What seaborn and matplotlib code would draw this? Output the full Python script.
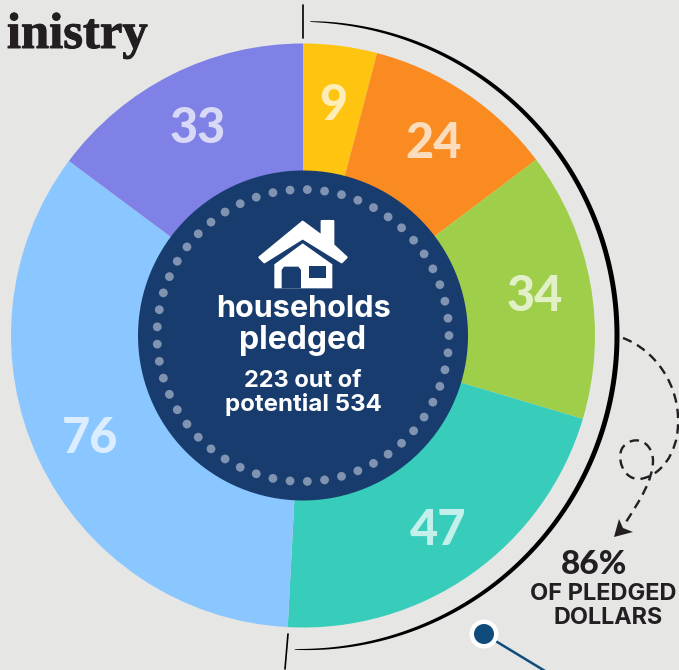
import numpy as np
import matplotlib
matplotlib.use('Agg')
import matplotlib.pyplot as plt
import matplotlib.patheffects as pe
import seaborn as sns
from matplotlib.patches import Circle, PathPatch, Polygon
from matplotlib.path import Path

households = [9, 24, 34, 47, 76, 33]
# the drawn slices are not quite proportional to the counts, so their arcs are read off the picture
slice_degrees = [14.7, 38.3, 53.6, 76.4, 123.7, 53.3]
slice_colors = ['#FEC40F', '#F98B21', '#9FCE4A', '#38CDBB', '#8AC6FF', '#7F81E6']

BG = '#E6E6E5'
NAVY = '#193C6E'
INK = '#231F20'
W, H = 679, 670
CX, CY = 303, H - 335.5

sns.set_theme(style='white', rc={'figure.facecolor': BG, 'axes.facecolor': BG})
plt.rcParams['font.family'] = ['Inter', 'DejaVu Sans']


def py(y):
    return H - y


def zoomed(points):
    # house icon traced in a 3x crop whose corner is at (130, 170)
    return [(130 + x / 3, py(170 + y / 3)) for x, y in points]


def draw_house(ax):
    roof = [(388, 262), (518, 155), (575, 197), (575, 153), (610, 153), (610, 225),
            (650, 262), (635, 277), (518, 205), (403, 277)]
    body = [(433, 283), (518, 220), (607, 283), (607, 355), (433, 355)]
    door = [(455, 355), (455, 300), (462, 290), (505, 290), (513, 300), (513, 355)]
    window = [(537, 287), (587, 287), (587, 325), (537, 325)]
    ax.add_patch(Polygon(zoomed(roof), fc='white', ec='white', lw=1.5, joinstyle='round', zorder=5))
    ax.add_patch(Polygon(zoomed(body), fc='white', ec='none', zorder=5))
    ax.add_patch(Polygon(zoomed(door), fc=NAVY, ec='none', zorder=6))
    ax.add_patch(Polygon(zoomed(window), fc=NAVY, ec='none', zorder=6))


fig, ax = plt.subplots(figsize=(W / 100, H / 100), dpi=100)
fig.subplots_adjust(0, 0, 1, 1)

wedges, labels = ax.pie(slice_degrees, labels=[str(v) for v in households],
                        colors=sns.color_palette(slice_colors), startangle=90,
                        counterclock=False, center=(CX, CY), radius=292,
                        labeldistance=0.805, frame=True, wedgeprops={'lw': 0})
for t in labels:
    t.set(ha='center', va='center', color='white', alpha=0.7, fontsize=35, fontweight='black',
          family=['Lato', 'DejaVu Sans'])
    t.set_y(t.get_position()[1] - 3)

# centre disc with its ring of dots
ax.add_patch(Circle((CX, CY), 165, fc=NAVY, ec='none', zorder=3))
for a in np.deg2rad(1.7 + np.arange(53) * 360 / 53):
    ax.add_patch(Circle((CX + 146 * np.sin(a), CY + 146 * np.cos(a)), 4.4,
                        fc='#8093B0', ec='none', zorder=4))
draw_house(ax)

ax.text(CX + 1, py(309), 'households', color='white', ha='center', va='center', fontsize=22, fontweight='bold', zorder=6)
ax.text(CX, py(340), 'pledged', color='white', ha='center', va='center', fontsize=23, fontweight='bold', zorder=6)
ax.text(CX, py(381), '223 out of', color='white', ha='center', va='center', fontsize=17, fontweight='bold', zorder=6)
ax.text(CX, py(405), 'potential 534', color='white', ha='center', va='center', fontsize=17.3, fontweight='bold', zorder=6)

# outer bracket, thin at both ends and thick in the middle
t = np.linspace(1.3, 181.5, 300)
th = np.deg2rad(t)
width = 0.6 + 4.4 * np.sin(np.deg2rad((t - 1.3) / 180.2 * 180)) ** 0.6
r_out = 314 + width / 2
r_in = 314 - width / 2
xs = np.r_[CX + r_out * np.sin(th), (CX + r_in * np.sin(th))[::-1]]
ys = np.r_[CY + r_out * np.cos(th), (CY + r_in * np.cos(th))[::-1]]
ax.fill(xs, ys, color='black', lw=0, zorder=2)
ax.plot([303, 303], [py(5), py(38)], color='black', lw=1.2, zorder=2)
ax.plot([288, 285], [py(634), py(669)], color='black', lw=1.2, zorder=2)

# dashed loop arrow
verts = [(623, 338),
         (655, 350), (680, 385), (678, 425),
         (677, 455), (660, 476), (640, 479),
         (622, 480), (616, 456), (623, 447),
         (634, 434), (652, 441), (653, 460),
         (653, 480), (640, 500), (626, 522)]
codes = [Path.MOVETO] + [Path.CURVE4] * 15
ax.add_patch(PathPatch(Path([(x, py(y)) for x, y in verts], codes), fc='none', ec=INK,
                       lw=1.7, ls=(0, (4, 2.6)), zorder=2))
ax.add_patch(Polygon([(614, py(537)), (619, py(519)), (623, py(528)), (633, py(532))],
                     fc=INK, ec='none', zorder=2))

ax.text(594, py(564), '86%', color=INK, ha='center', va='center', fontsize=24, fontweight='black', family=['Lato', 'DejaVu Sans'])
ax.text(603, py(594), 'OF PLEDGED', color=INK, ha='center', va='center', fontsize=17, fontweight='bold')
ax.text(608, py(618), 'DOLLARS', color=INK, ha='center', va='center', fontsize=16.8, fontweight='bold')

# lollipop marker running off the bottom edge
ax.plot([484, 545], [py(634), py(671)], color='#0F4C7C', lw=1.8, zorder=2)
ax.add_patch(Circle((484, py(634)), 14.5, fc='white', ec='none', zorder=3))
ax.add_patch(Circle((484, py(634)), 10, fc='#0F4C7C', ec='none', zorder=4))

ax.text(148, py(48), 'inistry', color=INK, ha='right', va='baseline',
        family='Liberation Serif', fontsize=36.5, fontweight='bold',
        path_effects=[pe.withStroke(linewidth=0.7, foreground=INK)])

ax.set_xlim(0, W)
ax.set_ylim(0, H)
ax.set_aspect('equal')
ax.axis('off')
fig.savefig('out.png', dpi=100, facecolor=BG)
